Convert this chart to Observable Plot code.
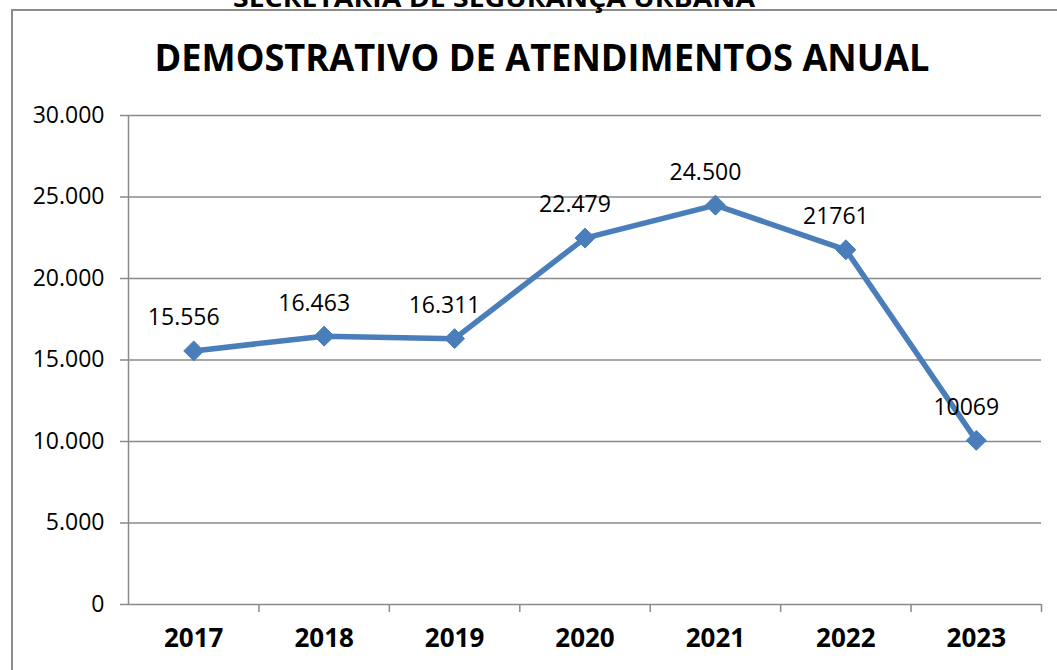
<!DOCTYPE html>
<html>
<head>
<meta charset="utf-8">
<script src="https://cdn.jsdelivr.net/npm/d3@7"></script>
<script src="https://cdn.jsdelivr.net/npm/@observablehq/plot@0.6"></script>
<style>
  html, body { margin: 0; padding: 0; background: #fff; }
  #wrap { position: relative; width: 1057px; height: 670px; overflow: hidden; background: #fff; }
  #frame { position: absolute; left: 11px; top: 9px; width: 1100px; height: 700px; border-left: 2px solid #8c8c8c; border-top: 2px solid #8c8c8c; box-sizing: border-box; }
  #titles { position: absolute; left: 0; top: 0; }
  #chart { position: absolute; left: 0; top: 0; }
</style>
</head>
<body>
<div id="wrap">
  <div id="frame"></div>
  <div id="chart"></div>
  <svg id="titles" width="1057" height="120">
    <text x="494" y="7" text-anchor="middle" font-family="Open Sans" font-weight="bold" font-size="25" textLength="522" lengthAdjust="spacingAndGlyphs" fill="#000">SECRETARIA DE SEGURANÇA URBANA</text>
    <text x="542" y="71" text-anchor="middle" font-family="Open Sans" font-weight="bold" font-size="38" textLength="775" lengthAdjust="spacingAndGlyphs" fill="#000">DEMOSTRATIVO DE ATENDIMENTOS ANUAL</text>
  </svg>
</div>
<script>
const years = ["2017", "2018", "2019", "2020", "2021", "2022", "2023"];
const values = [15556, 16463, 16311, 22479, 24500, 21761, 10069];
const labels = ["15.556", "16.463", "16.311", "22.479", "24.500", "21761", "10069"];
const yTicks = [0, 5000, 10000, 15000, 20000, 25000, 30000];

const data = years.map((y, i) => ({year: y, pos: i + 0.5, value: values[i], label: labels[i]}));
const boundaries = d3.range(0, years.length + 1);
const centers = years.map((_, i) => i + 0.5);
const fmt = d => d === 0 ? "0" : d3.format(",")(d).replace(/,/g, ".");

const gray = "#8a8a8a";
const blue = "#4a7ebb";

const chart = Plot.plot({
  width: 1057,
  height: 670,
  marginLeft: 128,
  marginRight: 16,
  marginTop: 115,
  marginBottom: 66,
  style: {fontFamily: "Open Sans", background: "transparent", color: "#000"},
  x: {domain: [0, years.length], label: null},
  y: {domain: [0, 30000], label: null},
  marks: [
    Plot.gridY(yTicks.filter(d => d > 0), {stroke: gray, strokeOpacity: 1, strokeWidth: 1.5}),
    Plot.ruleY([0], {stroke: gray, strokeWidth: 1.5}),
    Plot.ruleX([0], {stroke: gray, strokeWidth: 1.5}),
    Plot.axisY({ticks: yTicks, tickFormat: fmt, tickSize: 8, tickPadding: 16, stroke: gray, fontSize: 23, strokeWidth: 1.5, label: null}),
    Plot.axisX({ticks: boundaries.slice(1), tickFormat: () => "", tickSize: 8, stroke: gray, strokeWidth: 1.5, label: null}),
    Plot.axisX({ticks: centers, tickFormat: d => years[Math.floor(d)], tickSize: 0, tickPadding: 24, fontSize: 26, fontWeight: "bold", label: null}),
    Plot.line(data, {x: "pos", y: "value", stroke: blue, strokeWidth: 5.5}),
    Plot.dot(data, {x: "pos", y: "value", symbol: "diamond2", r: 9, fill: blue, stroke: blue, strokeWidth: 1}),
    Plot.text(data, {x: "pos", y: "value", text: "label", dx: -10, dy: -33, fontSize: 23, fill: "#000"})
  ]
});
document.getElementById("chart").appendChild(chart);
</script>
</body>
</html>
